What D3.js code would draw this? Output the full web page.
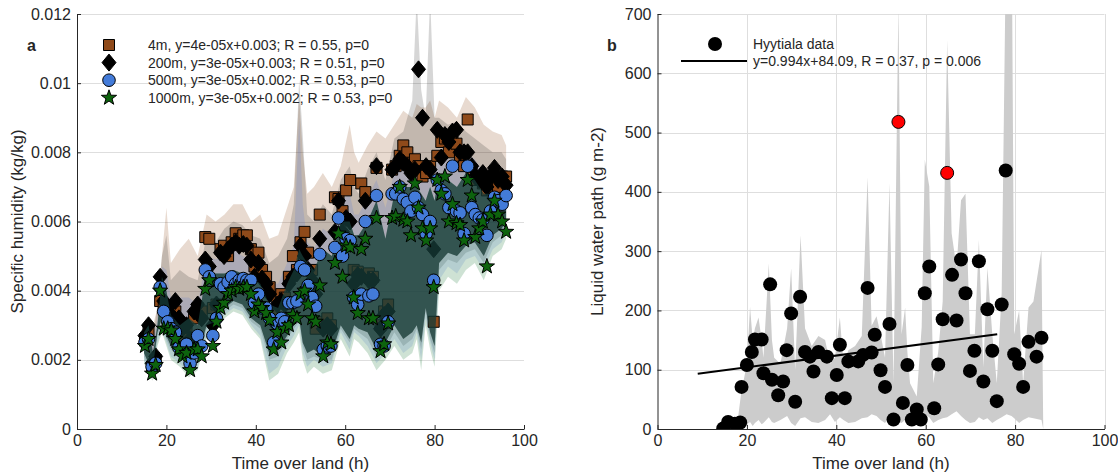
<!DOCTYPE html>
<html>
<head>
    <meta charset="utf-8">
    <title>Specific humidity and liquid water path over land</title>
    <script type="text/javascript" src="https://cdn.jsdelivr.net/npm/d3@7"></script>

    <style>
        body {
            margin: 0;
            background: #fff;
        }

        svg text {
            font-family: "Liberation Sans", Arial, Helvetica, sans-serif;
            fill: #262626;
        }

        g.axis path.domain, g.axis g.tick line {
            stroke: #262626;
        }

        g.axis text {
            font-size: 16px;
        }

        g.grid line {
            stroke: #dedede;
            stroke-width: 1;
        }

        text.legend {
            font-size: 14px;
        }

        text.title {
            font-size: 17px;
        }

        text.panel {
            font-size: 16px;
            font-weight: bold;
        }
    </style>
</head>

<body>

<script type="text/javascript">
// ---- panel a: specific humidity (values in g/kg, plotted as kg/kg) ----
var times = [15.2, 16.0, 16.8, 17.6, 18.6, 19.4,
    20.3, 21.1, 22.0, 22.8, 23.6, 24.5, 25.3, 26.2, 27.0,
    27.9, 28.7, 29.6, 30.4, 31.2, 32.1, 32.9, 33.8, 34.6, 35.5, 36.3, 37.2,
    38.0, 38.9, 39.7, 40.6, 41.4, 42.3, 43.1, 44.0, 44.8, 45.7, 46.5, 47.4,
    48.3, 49.2, 50.0, 50.9, 51.7, 52.6, 53.4, 54.3, 55.1, 56.0, 56.8, 57.7,
    58.5, 59.4, 60.2, 61.1, 61.9, 62.8, 63.6, 64.5, 65.3, 66.2, 67.0, 67.9, 68.7, 69.6,
    70.5, 71.3, 72.2, 73.0, 73.9, 74.7, 75.6, 76.4, 77.3, 78.1, 79.0, 79.8,
    80.6, 81.5, 82.3, 83.2, 84.0, 84.9, 85.7, 86.6, 87.4, 88.3, 89.1, 90.0, 90.8, 91.7, 92.5, 93.4, 94.2, 95.1, 96.0];

var q4m = [2.6, 2.8, 1.8, 2.0, 3.7, 3.5,
    3.3, 3.1, 3.4, 3.0, 2.7, 2.8, 2.5, 3.2, 3.5,
    3.4, 5.55, 5.5, 3.5, 3.6, 5.2, 5.3, 5.0, 5.4, 5.66, 5.5, 5.6,
    5.6, 5.2, 4.7, 5.1, 4.6, 4.4, 4.1, 3.3, 3.8, 3.9, 3.8, 4.4,
    5.0, 4.6, 5.4, 5.7, 5.1, 4.6, 2.9, 6.2, 3.1, 3.2, 3.0, 6.7,
    6.65, 6.3, 6.9, 7.2, 4.6, 4.55, 7.1, 6.85, 4.5, 4.4, 7.55, 3.0, 3.4, 3.6,
    7.5, 7.6, 7.9, 8.2, 8.0, 7.7, 7.8, 7.6, 7.3, 7.4, 7.6, 3.1,
    7.9, 8.3, 8.4, 8.0, 8.3, 8.25, 7.9, 7.6, 8.95, 7.5, 7.2, 7.3, 7.1, 6.9, 7.2, 7.2, 7.0, 7.3, 7.3];

var q200m = [2.7, 3.0, 1.9, 2.1, 4.4, 3.7,
    3.5, 3.3, 3.7, 3.2, 2.9, 3.0, 2.6, 3.4, 3.6,
    3.2, 4.9, 4.7, 3.0, 3.6, 5.1, 5.0, 5.2, 5.3, 5.4, 5.3, 5.35,
    5.3, 4.9, 4.4, 4.8, 4.35, 4.2, 3.9, 3.1, 3.6, 3.7, 3.6, 4.2,
    4.4, 4.5, 5.3, 5.0, 4.6, 4.3, 3.9, 5.5, 2.9, 3.0, 2.9, 5.7,
    6.6, 5.7, 6.1, 6.0, 4.2, 4.45, 4.4, 6.6, 4.3, 4.3, 7.6, 2.9, 3.3, 3.4,
    7.5, 7.6, 7.8, 7.7, 7.6, 7.4, 7.5, 10.4, 9.0, 7.6, 7.5, 5.2,
    8.65, 7.85, 8.5, 8.3, 8.6, 8.65, 8.0, 8.0, 8.0, 7.6, 7.3, 7.2, 7.4, 7.0, 7.3, 7.55, 7.2, 7.3, 7.05];

var q500m = [2.5, 2.6, 1.8, 1.9, 4.1, 3.4,
    3.1, 2.9, 2.8, 2.35, 2.3, 2.45, 1.9, 2.2, 2.7,
    2.4, 4.6, 4.4, 2.7, 3.2, 4.2, 4.1, 4.25, 4.4, 4.2, 4.3, 4.35,
    4.3, 4.3, 3.65, 3.9, 3.5, 3.5, 3.2, 2.5, 3.05, 3.2, 3.1, 3.65,
    3.65, 3.7, 4.7, 4.6, 4.15, 3.8, 3.55, 5.05, 2.3, 2.4, 2.4, 5.25,
    6.1, 5.0, 5.5, 5.45, 3.8, 3.6, 3.9, 6.0, 3.85, 3.9, 6.75, 2.45, 2.4, 3.1,
    6.8, 6.8, 7.0, 6.65, 6.55, 6.3, 6.7, 6.4, 6.2, 5.65, 6.0, 4.3,
    7.2, 6.9, 6.8, 6.4, 7.6, 6.3, 6.25, 5.65, 7.6, 6.4, 6.2, 6.1, 6.05, 5.6, 6.3, 6.7, 6.6, 6.5, 6.75];

var q1000m = [2.4, 2.6, 1.6, 1.85, 4.0, 2.9,
    2.9, 2.85, 2.6, 2.3, 2.1, 2.2, 1.7, 2.3, 2.3,
    2.1, 4.05, 4.3, 2.4, 3.1, 3.5, 3.65, 3.9, 4.0, 4.1, 4.05, 4.1,
    4.1, 3.9, 3.4, 3.6, 3.5, 3.35, 3.15, 2.3, 2.8, 2.5, 2.9, 3.0,
    3.3, 3.2, 3.9, 4.0, 3.6, 3.2, 3.1, 4.15, 2.1, 2.5, 2.45, 4.8,
    5.65, 4.4, 5.3, 5.25, 3.8, 3.35, 5.2, 5.5, 3.2, 3.2, 6.1, 2.25, 2.45, 3.05,
    6.1, 6.15, 7.0, 6.05, 6.0, 5.6, 7.1, 6.4, 5.8, 5.45, 5.8, 4.1,
    7.2, 6.8, 7.3, 6.0, 6.5, 5.95, 5.9, 5.45, 7.2, 6.75, 5.55, 5.8, 6.0, 4.7, 6.2, 6.6, 6.2, 6.0, 5.7];

// spread (shaded ranges) of each height, g/kg
var envTime = [15, 16, 17, 18, 19, 20, 21, 23, 25, 27, 29, 31, 33, 35, 37, 39, 41, 43, 45, 47,
    48.5, 49.7, 50.5, 51.5, 53, 55, 57, 59, 61, 62, 63, 65, 67, 69, 71, 73, 75, 76, 77, 78,
    79, 80, 81, 83, 85, 87, 89, 91, 93, 95, 96];

var q4mHi = [3.0, 3.2, 3.0, 3.5, 5.0, 6.4, 4.8, 5.2, 5.5, 5.0, 6.2, 6.0, 6.2, 6.5, 6.5, 6.0, 6.2, 5.5, 5.6, 6.4,
    7.0, 9.6, 8.0, 6.8, 7.0, 7.4, 7.0, 7.6, 8.8, 8.0, 7.7, 8.2, 8.6, 8.4, 8.8, 9.2, 9.0, 9.4, 9.3, 9.3,
    9.5, 9.0, 9.5, 9.3, 9.0, 9.6, 9.3, 8.8, 8.6, 8.5, 8.2];
var q4mLo = [2.2, 1.9, 1.8, 2.8, 3.2, 2.7, 2.4, 2.2, 1.9, 2.1, 3.0, 3.1, 3.5, 3.7, 3.6, 3.2, 3.0, 2.2, 2.3, 2.7,
    3.0, 3.2, 2.5, 2.2, 2.3, 2.1, 2.2, 3.0, 2.6, 3.0, 2.9, 2.8, 2.3, 2.5, 3.0, 2.6, 2.8, 3.0, 2.5, 3.5,
    2.8, 2.4, 4.8, 5.1, 5.0, 5.3, 5.4, 5.0, 5.6, 5.8, 6.0];

var q200mHi = [3.0, 3.1, 2.6, 3.6, 5.0, 5.6, 4.3, 4.6, 4.4, 4.3, 5.6, 5.4, 5.8, 6.0, 5.9, 5.6, 5.5, 4.8, 5.0, 5.5,
    6.5, 10.1, 8.5, 6.2, 6.0, 6.5, 6.2, 7.2, 7.6, 7.0, 6.8, 7.5, 8.0, 7.2, 8.4, 8.6, 9.5, 12.5, 9.8, 9.0,
    12.5, 9.0, 9.0, 8.8, 8.9, 8.6, 8.4, 8.2, 8.0, 8.0, 7.8];
var q200mLo = [2.1, 1.8, 1.7, 2.7, 3.1, 2.6, 2.3, 2.1, 1.8, 2.0, 2.9, 3.0, 3.4, 3.6, 3.5, 3.1, 2.9, 2.0, 2.1, 2.6,
    2.9, 3.1, 2.4, 2.0, 2.1, 2.0, 2.0, 2.9, 2.5, 2.9, 2.8, 2.6, 2.1, 2.3, 2.8, 2.4, 2.6, 2.9, 2.3, 3.4,
    2.6, 2.2, 4.6, 4.9, 4.8, 5.1, 5.2, 4.8, 5.4, 5.6, 5.8];

var q500mHi = [2.9, 3.0, 2.4, 3.2, 4.7, 4.6, 3.8, 3.8, 3.8, 3.6, 5.0, 4.9, 5.0, 5.2, 5.0, 4.9, 4.7, 4.2, 4.2, 4.8,
    5.3, 9.0, 6.5, 5.4, 5.2, 5.8, 5.6, 6.6, 6.8, 6.2, 6.2, 6.7, 7.2, 6.4, 7.4, 7.6, 7.5, 7.8, 7.5, 7.4,
    7.8, 7.3, 8.0, 7.8, 7.8, 8.0, 7.8, 7.4, 7.3, 7.4, 7.2];
var q500mLo = [2.0, 1.7, 1.6, 2.5, 2.9, 2.5, 2.1, 1.9, 1.6, 1.8, 2.7, 2.9, 3.3, 3.5, 3.4, 3.0, 2.7, 1.6, 1.8, 2.4,
    2.7, 3.0, 2.2, 1.8, 2.0, 1.8, 1.9, 2.8, 2.3, 2.8, 2.7, 2.4, 1.9, 2.2, 2.6, 2.2, 2.4, 2.8, 2.0, 3.2,
    2.5, 2.0, 4.3, 4.7, 4.5, 4.9, 5.0, 4.6, 5.2, 5.4, 5.7];

var q1000mHi = [2.8, 3.0, 2.2, 3.0, 4.4, 4.0, 3.3, 3.0, 3.2, 3.0, 4.6, 4.5, 4.5, 4.6, 4.5, 4.4, 4.2, 3.6, 3.5, 4.2,
    4.6, 5.2, 5.0, 4.8, 4.6, 5.2, 5.0, 6.0, 6.0, 5.6, 5.6, 6.0, 6.6, 5.5, 6.8, 7.0, 7.0, 7.0, 6.8, 6.6,
    7.0, 6.6, 7.4, 7.2, 7.0, 7.4, 7.2, 6.8, 6.8, 6.8, 6.5];
var q1000mLo = [1.9, 1.5, 1.4, 2.4, 2.8, 2.4, 2.0, 1.8, 1.5, 1.7, 2.6, 2.8, 3.2, 3.4, 3.3, 2.9, 2.6, 1.4, 1.6, 2.2,
    2.5, 2.8, 2.0, 1.6, 1.8, 1.6, 1.7, 2.6, 2.1, 2.6, 2.5, 2.2, 1.7, 2.0, 2.4, 2.0, 2.2, 2.6, 1.7, 3.0,
    2.3, 1.8, 4.0, 4.4, 4.2, 4.6, 4.8, 4.3, 5.0, 5.2, 5.5];

var heightLabels = ["4m, y=4e-05x+0.003; R = 0.55, p=0",
    "200m, y=3e-05x+0.003; R = 0.51, p=0",
    "500m, y=3e-05x+0.002; R = 0.53, p=0",
    "1000m, y=3e-05x+0.002; R = 0.53, p=0"];

// ---- panel b: liquid water path (g m-2) ----
var lwpTime = [14.7, 15.8, 17.3, 18.5, 18.8, 20.0, 21.1, 21.8, 23.3, 25.2, 23.7, 25.6, 27.0, 28.1, 28.9,
    29.9, 30.8, 31.9, 33.0, 34.1, 34.9, 36.0, 37.9, 39.0, 40.1, 40.8, 41.9, 42.7, 44.9, 46.0,
    47.0, 47.9, 48.6, 49.9, 50.9, 51.9, 52.8, 54.9, 55.9, 56.9, 58.0, 58.9, 59.8, 60.8, 61.9,
    62.8, 63.8, 65.9, 66.9, 67.9, 68.9, 69.9, 70.9, 71.9, 72.9, 73.8, 74.9, 75.9, 77.0, 77.9,
    79.8, 80.9, 81.8, 83.0, 84.8, 85.9];
var lwp = [1, 12, 9, 11, 71, 108, 130, 151, 151, 244, 94, 83, 57, 80, 133,
    195, 46, 223, 130, 122, 97, 130, 122, 52, 91, 142, 52, 114, 114, 125,
    238, 129, 159, 99, 71, 177, 16, 44, 108, 16, 33, 16, 229, 274, 35,
    109, 185, 260, 183, 286, 229, 98, 132, 283, 80, 202, 132, 47, 210, 436,
    126, 110, 71, 147, 122, 154];

var outlierTime = [53.9, 64.8];
var outlierLwp = [518, 432];

var lwpEnvTime = [17.7, 18.7, 20.0, 20.7, 21.3, 21.8, 22.6, 23.3, 23.7, 24.9, 25.6, 26.1, 27.5, 29.0, 29.9,
    30.8, 32.0, 33.0, 34.5, 36.0, 37.5, 38.6, 39.7, 40.8, 41.6, 42.7, 44.2, 45.7, 47.0, 47.9,
    49.0, 49.9, 50.9, 51.9, 52.8, 53.9, 54.6, 55.4, 55.9, 56.5, 58.0, 59.1, 59.8, 60.8, 61.7,
    62.8, 63.8, 64.8, 65.8, 66.9, 67.9, 68.9, 69.9, 71.0, 71.9, 72.9, 73.8, 74.9, 75.9, 77.0,
    78.1, 79.2, 79.8, 80.9, 81.8, 83.0, 84.1, 85.9, 86.3];
var lwpHi = [0, 60, 110, 206, 150, 170, 188, 150, 120, 279, 150, 120, 110, 170, 271,
    100, 327, 170, 140, 157, 150, 110, 120, 188, 110, 133, 140, 157, 425, 174,
    190, 160, 120, 415, 77, 720, 160, 205, 130, 77, 55, 172, 454, 409, 77,
    130, 215, 656, 330, 272, 386, 397, 160, 160, 319, 104, 272, 160, 77, 230,
    900, 900, 160, 200, 77, 205, 215, 302, 0];
var lwpLo = [0, 2, 8, 12, 5, 10, 15, 8, 10, 20, 12, 10, 15, 22, 10,
    5, 18, 20, 12, 10, 15, 25, 12, 20, 15, 10, 12, 18, 20, 25,
    22, 15, 10, 20, 8, 12, 10, 15, 20, 10, 12, 15, 25, 20, 10,
    15, 18, 20, 25, 30, 22, 15, 10, 12, 20, 15, 18, 10, 15, 20,
    25, 22, 18, 10, 15, 20, 18, 15, 0];

var fitSlope = 0.994, fitIntercept = 84.09, fitRange = [9, 76];

// ---- ticks ----
var timeTicks = [0, 20, 40, 60, 80, 100];
var qTicks = [0, 0.002, 0.004, 0.006, 0.008, 0.01, 0.012];
var lwpTicks = [0, 100, 200, 300, 400, 500, 600, 700];


var svg = d3.select("body").append("svg")
        .attr("width", 1118)
        .attr("height", 476);

var boxA = {left: 77, right: 524, top: 14, bottom: 429},
    boxB = {left: 657.5, right: 1104.5, top: 14, bottom: 429};

function squarePath(s) {
    var h = s / 2;
    return "M" + (-h) + "," + (-h) + "h" + s + "v" + s + "h" + (-s) + "Z";
}

function diamondPath(w, h) {
    return "M0," + (-h) + "L" + w + ",0L0," + h + "L" + (-w) + ",0Z";
}

function starPath(r) {
    var pts = [];
    for (var i = 0; i < 10; i++) {
        var a = -Math.PI / 2 + i * Math.PI / 5,
            rr = i % 2 ? r * 0.4 : r;
        pts.push([(rr * Math.cos(a)).toFixed(2), (rr * Math.sin(a)).toFixed(2)]);
    }
    return "M" + pts.join("L") + "Z";
}

function defineClip(id, box) {
    svg.append("defs")
            .append("clipPath")
            .attr("id", id)
            .append("rect")
            .attr("x", box.left)
            .attr("y", box.top)
            .attr("width", box.right - box.left)
            .attr("height", box.bottom - box.top);
}

function renderGrid(x, y, yTicks, vertical) {
    var g = svg.append("g").attr("class", "grid");

    g.selectAll("line.h")
            .data(yTicks.slice(1))
            .enter()
            .append("line")
            .attr("class", "h")
            .attr("x1", x.range()[0])
            .attr("x2", x.range()[1])
            .attr("y1", function (d) { return Math.round(y(d)) + 0.5; })
            .attr("y2", function (d) { return Math.round(y(d)) + 0.5; });

    if (vertical) {
        g.selectAll("line.v")
                .data(timeTicks.slice(1))
                .enter()
                .append("line")
                .attr("class", "v")
                .attr("x1", function (d) { return Math.round(x(d)) + 0.5; })
                .attr("x2", function (d) { return Math.round(x(d)) + 0.5; })
                .attr("y1", y.range()[0])
                .attr("y2", y.range()[1]);
    }
}

function renderAxes(box, x, y, yTicks, yTitle, yTitleX) {
    var xAxis = d3.axisBottom(x)
            .tickValues(timeTicks)
            .tickFormat(function (d) { return String(d); })
            .tickSize(-4)
            .tickSizeOuter(0)
            .tickPadding(6);

    var yAxis = d3.axisLeft(y)
            .tickValues(yTicks)
            .tickFormat(function (d) { return String(d); })
            .tickSize(-4)
            .tickSizeOuter(0)
            .tickPadding(6);

    svg.append("g")
            .attr("class", "x axis")
            .attr("transform", "translate(0," + box.bottom + ")")
            .call(xAxis);

    svg.append("g")
            .attr("class", "y axis")
            .attr("transform", "translate(" + box.left + ",0)")
            .call(yAxis);

    svg.append("text")
            .attr("class", "title")
            .attr("x", (box.left + box.right) / 2)
            .attr("y", 469)
            .attr("text-anchor", "middle")
            .text("Time over land (h)");

    svg.append("text")
            .attr("class", "title")
            .attr("text-anchor", "middle")
            .attr("transform", "translate(" + yTitleX + "," + ((box.top + box.bottom) / 2) + ") rotate(-90)")
            .text(yTitle);
}

// ---------- panel a ----------
function renderHumidity() {
    var x = d3.scaleLinear().domain([0, 100]).range([boxA.left, boxA.right]),
        y = d3.scaleLinear().domain([0, 0.012]).range([boxA.bottom, boxA.top]);

    var heights = [
        {values: q4m, hi: q4mHi, lo: q4mLo, band: "#8b4513", bandOpacity: 0.2,
            marker: squarePath(11), fill: "#8f4a1a"},
        {values: q200m, hi: q200mHi, lo: q200mLo, band: "#000000", bandOpacity: 0.16,
            marker: diamondPath(7, 8.5), fill: "#000000"},
        {values: q500m, hi: q500mHi, lo: q500mLo, band: "#4169e1", bandOpacity: 0.17,
            marker: "M-6.3,0a6.3,6.3 0 1,0 12.6,0a6.3,6.3 0 1,0 -12.6,0Z", fill: "#437bd9"},
        {values: q1000m, hi: q1000mHi, lo: q1000mLo, band: "#1f7a3a", bandOpacity: 0.22,
            marker: starPath(8), fill: "#0d630d"}
    ];

    defineClip("clip-a", boxA);
    renderGrid(x, y, qTicks, false);

    var bodyG = svg.append("g").attr("clip-path", "url(#clip-a)");

    heights.forEach(function (h) {
        var area = d3.area()
                .x(function (d) { return x(d); })
                .y0(function (d, i) { return y(h.lo[i] / 1000); })
                .y1(function (d, i) { return y(h.hi[i] / 1000); });

        bodyG.append("path")
                .datum(envTime)
                .attr("class", "area")
                .attr("d", area)
                .style("fill", h.band)
                .style("fill-opacity", h.bandOpacity);
    });

    // where all four ranges overlap the fills pile up into a darker band
    var core = d3.area()
            .x(function (d) { return x(d); })
            .y0(function (d, i) {
                return y(d3.max(heights, function (h) { return h.lo[i]; }) / 1000);
            })
            .y1(function (d, i) {
                var lo = d3.max(heights, function (h) { return h.lo[i]; }),
                    hi = d3.min(heights, function (h) { return h.hi[i]; });
                return y(Math.max(lo, hi) / 1000);
            });

    function renderMarkers(h) {
        bodyG.append("g")
                .selectAll("path")
                .data(h.values)
                .enter()
                .append("path")
                .attr("transform", function (d, i) {
                    return "translate(" + x(times[i]) + "," + y(d / 1000) + ")";
                })
                .attr("d", h.marker)
                .style("fill", h.fill)
                .style("stroke", "#000")
                .style("stroke-width", 1);
    }

    renderMarkers(heights[0]);
    renderMarkers(heights[1]);

    bodyG.append("path")
            .datum(envTime)
            .attr("d", core)
            .style("fill", "#163c38")
            .style("fill-opacity", 0.76);

    renderMarkers(heights[2]);
    renderMarkers(heights[3]);

    renderAxes(boxA, x, y, qTicks, "Specific humidity (kg/kg)", 23);

    // legend
    var legend = svg.append("g").attr("class", "legend");
    heights.forEach(function (h, i) {
        var cy = 45 + i * 17.6;
        legend.append("path")
                .attr("transform", "translate(109," + cy + ")")
                .attr("d", h.marker)
                .style("fill", h.fill)
                .style("stroke", "#000");
        legend.append("text")
                .attr("class", "legend")
                .attr("x", 148)
                .attr("y", cy + 5)
                .text(heightLabels[i]);
    });

    svg.append("text")
            .attr("class", "panel")
            .attr("x", 27)
            .attr("y", 51)
            .text("a");
}

// ---------- panel b ----------
function renderLwp() {
    var x = d3.scaleLinear().domain([0, 100]).range([boxB.left, boxB.right]),
        y = d3.scaleLinear().domain([0, 700]).range([boxB.bottom, boxB.top]);

    defineClip("clip-b", boxB);
    renderGrid(x, y, lwpTicks, true);

    var bodyG = svg.append("g").attr("clip-path", "url(#clip-b)");

    var area = d3.area()
            .x(function (d) { return x(d); })
            .y0(function (d, i) { return y(lwpLo[i]); })
            .y1(function (d, i) { return y(lwpHi[i]); });

    bodyG.append("path")
            .datum(lwpEnvTime)
            .attr("d", area)
            .style("fill", "#cccccc");

    bodyG.append("g")
            .selectAll("circle")
            .data(lwp)
            .enter()
            .append("circle")
            .attr("cx", function (d, i) { return x(lwpTime[i]); })
            .attr("cy", function (d) { return y(d); })
            .attr("r", 7)
            .style("fill", "#000");

    bodyG.append("g")
            .selectAll("circle")
            .data(outlierLwp)
            .enter()
            .append("circle")
            .attr("cx", function (d, i) { return x(outlierTime[i]); })
            .attr("cy", function (d) { return y(d); })
            .attr("r", 6.5)
            .style("fill", "#ff0000")
            .style("stroke", "#000")
            .style("stroke-width", 1);

    var fit = d3.line()
            .x(function (d) { return x(d); })
            .y(function (d) { return y(fitSlope * d + fitIntercept); });

    bodyG.append("path")
            .datum(fitRange)
            .attr("d", fit)
            .style("fill", "none")
            .style("stroke", "#000")
            .style("stroke-width", 2);

    renderAxes(boxB, x, y, lwpTicks, "Liquid water path (g m-2)", 603);

    // legend
    svg.append("circle")
            .attr("cx", 715)
            .attr("cy", 44)
            .attr("r", 7)
            .style("fill", "#000");
    svg.append("line")
            .attr("x1", 681).attr("x2", 747)
            .attr("y1", 61).attr("y2", 61)
            .style("stroke", "#000")
            .style("stroke-width", 2);
    svg.append("text")
            .attr("class", "legend")
            .attr("x", 753)
            .attr("y", 49)
            .text("Hyytiala data");
    svg.append("text")
            .attr("class", "legend")
            .attr("x", 753)
            .attr("y", 66)
            .text("y=" + fitSlope + "x+" + fitIntercept + ", R = 0.37, p = 0.006");

    svg.append("text")
            .attr("class", "panel")
            .attr("x", 607)
            .attr("y", 51)
            .text("b");
}

renderHumidity();
renderLwp();
</script>

</body>

</html>
